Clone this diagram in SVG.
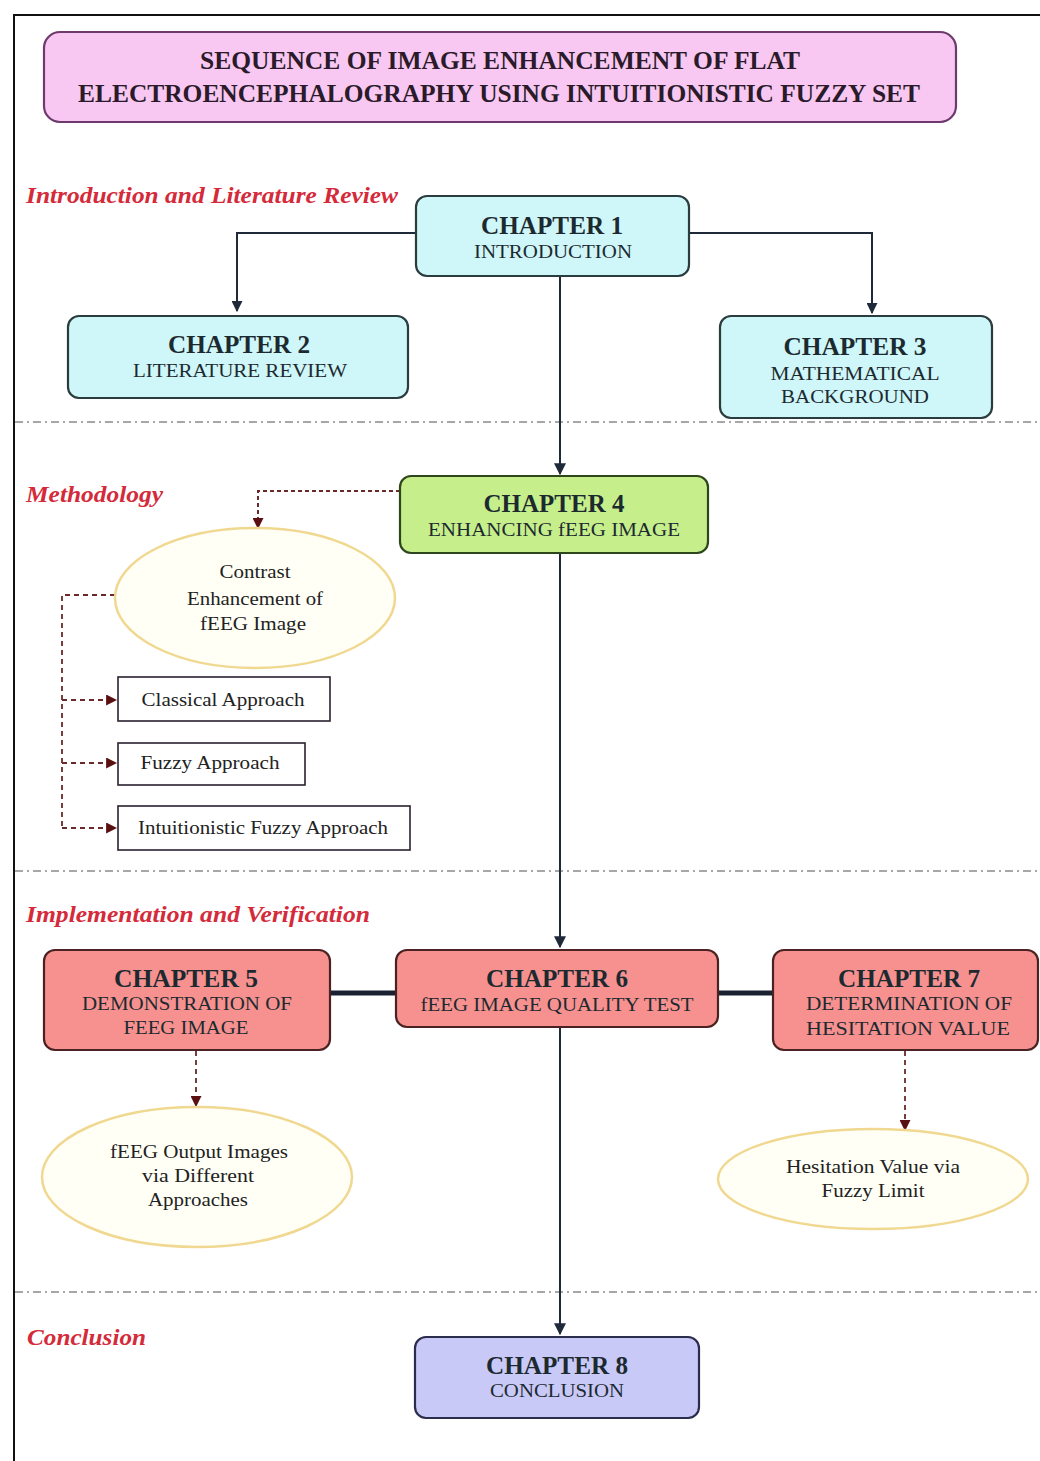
<svg xmlns="http://www.w3.org/2000/svg" width="1040" height="1461" viewBox="0 0 1040 1461">
<defs>
<marker id="ah" viewBox="0 0 10 10" refX="9" refY="5" markerWidth="11" markerHeight="11" orient="auto" markerUnits="userSpaceOnUse">
<path d="M0,0 L10,5 L0,10 z" fill="#1e2a3a"/>
</marker>
<marker id="ahd" viewBox="0 0 10 10" refX="9" refY="5" markerWidth="11" markerHeight="11" orient="auto" markerUnits="userSpaceOnUse">
<path d="M0,0 L10,5 L0,10 z" fill="#5a1010"/>
</marker>
<marker id="ahb" viewBox="0 0 10 10" refX="9" refY="5" markerWidth="12" markerHeight="12" orient="auto" markerUnits="userSpaceOnUse">
<path d="M0,0 L10,5 L0,10 z" fill="#1e2a3a"/>
</marker>
<style>
.frame{stroke:#111;stroke-width:2;fill:none}
.sep{stroke:#8a8a8a;stroke-width:1.6;stroke-dasharray:8 4 2 4;fill:none}
.sec{font-family:"Liberation Serif",serif;font-style:italic;font-weight:bold;font-size:23px;fill:#d42a3a}
.box{stroke-width:2.2}
.cyan{fill:#cff6f8;stroke:#2a3c3e}
.green{fill:#c6ef8c;stroke:#2e461c}
.red{fill:#f7918f;stroke:#4a2222}
.blue{fill:#c9c9f8;stroke:#2c2c4c}
.pink{fill:#f8c8f2;stroke:#6e3a6e}
.plain{fill:#fff;stroke:#2a2030;stroke-width:1.6}
.ell{fill:#fffff6;stroke:#f0d890;stroke-width:2.5}
.h{font-family:"Liberation Serif",serif;font-weight:bold;font-size:25px;fill:#1c2a30;text-anchor:middle}
.s{font-family:"Liberation Serif",serif;font-size:19px;fill:#1c2a30;text-anchor:middle}
.t{font-family:"Liberation Serif",serif;font-weight:bold;font-size:25px;fill:#2a1a2a;text-anchor:middle}
.e{font-family:"Liberation Serif",serif;font-size:19px;fill:#222;text-anchor:middle}
.line{stroke:#1e2a3a;stroke-width:2;fill:none}
.thick{stroke:#1a2232;stroke-width:5;fill:none}
.dash{stroke:#6a2a2a;stroke-width:1.8;stroke-dasharray:5 4;fill:none}
.dot{stroke:#6a2a2a;stroke-width:2;stroke-dasharray:4 3;fill:none}
</style>
</defs>
<g id="frame">
<path class="frame" d="M14,1461 V15 H1040"/>
</g>
<g id="separators">
<line class="sep" x1="15" y1="422" x2="1040" y2="422"/>
<line class="sep" x1="15" y1="871" x2="1040" y2="871"/>
<line class="sep" x1="15" y1="1292" x2="1040" y2="1292"/>
</g>
<g id="section-labels">
<text class="sec" x="26" y="203" textLength="372" lengthAdjust="spacingAndGlyphs">Introduction and Literature Review</text>
<text class="sec" x="26" y="502" textLength="137" lengthAdjust="spacingAndGlyphs">Methodology</text>
<text class="sec" x="26" y="922" textLength="344" lengthAdjust="spacingAndGlyphs">Implementation and Verification</text>
<text class="sec" x="27" y="1345" textLength="119" lengthAdjust="spacingAndGlyphs">Conclusion</text>
</g>
<g id="connectors">
<path class="line" d="M416,233 H237 V311" marker-end="url(#ah)"/>
<path class="line" d="M689,233 H872 V313" marker-end="url(#ah)"/>
<path class="line" d="M560,276 V474" marker-end="url(#ahb)"/>
<path class="line" d="M560,553 V947" marker-end="url(#ahb)"/>
<path class="line" d="M560,1027 V1334" marker-end="url(#ahb)"/>
<line class="thick" x1="330" y1="993" x2="396" y2="993"/>
<line class="thick" x1="718" y1="993" x2="773" y2="993"/>
<path class="dot" d="M400,491 H258 V528" marker-end="url(#ahd)"/>
<path class="dash" d="M115,595 H62 V828"/>
<path class="dash" d="M62,700 H116" marker-end="url(#ahd)"/>
<path class="dash" d="M62,763 H116" marker-end="url(#ahd)"/>
<path class="dash" d="M62,828 H116" marker-end="url(#ahd)"/>
<path class="dash" d="M196,1051 V1106" marker-end="url(#ahd)"/>
<path class="dash" d="M905,1051 V1130" marker-end="url(#ahd)"/>
</g>
<g id="title">
<rect class="pink box" x="44" y="32" width="912" height="90" rx="16"/>
<text class="t" x="500" y="69" textLength="600" lengthAdjust="spacingAndGlyphs">SEQUENCE OF IMAGE ENHANCEMENT OF FLAT</text>
<text class="t" x="499" y="102" textLength="842" lengthAdjust="spacingAndGlyphs">ELECTROENCEPHALOGRAPHY USING INTUITIONISTIC FUZZY SET</text>
</g>
<g id="chapter1">
<rect class="cyan box" x="416" y="196" width="273" height="80" rx="11"/>
<text class="h" x="552" y="234" textLength="142" lengthAdjust="spacingAndGlyphs">CHAPTER 1</text>
<text class="s" x="553" y="258" textLength="158" lengthAdjust="spacingAndGlyphs">INTRODUCTION</text>
</g>
<g id="chapter2">
<rect class="cyan box" x="68" y="316" width="340" height="82" rx="11"/>
<text class="h" x="239" y="353" textLength="142" lengthAdjust="spacingAndGlyphs">CHAPTER 2</text>
<text class="s" x="240" y="377" textLength="214" lengthAdjust="spacingAndGlyphs">LITERATURE REVIEW</text>
</g>
<g id="chapter3">
<rect class="cyan box" x="720" y="316" width="272" height="102" rx="11"/>
<text class="h" x="855" y="355" textLength="143" lengthAdjust="spacingAndGlyphs">CHAPTER 3</text>
<text class="s" x="855" y="380" textLength="169" lengthAdjust="spacingAndGlyphs">MATHEMATICAL</text>
<text class="s" x="855" y="403" textLength="148" lengthAdjust="spacingAndGlyphs">BACKGROUND</text>
</g>
<g id="chapter4">
<rect class="green box" x="400" y="476" width="308" height="77" rx="11"/>
<text class="h" x="554" y="512" textLength="141" lengthAdjust="spacingAndGlyphs">CHAPTER 4</text>
<text class="s" x="554" y="536" textLength="252" lengthAdjust="spacingAndGlyphs">ENHANCING fEEG IMAGE</text>
</g>
<g id="contrast-ellipse">
<ellipse class="ell" cx="255" cy="598" rx="140" ry="70"/>
<text class="e" x="255" y="578" textLength="71" lengthAdjust="spacingAndGlyphs">Contrast</text>
<text class="e" x="255" y="605" textLength="136" lengthAdjust="spacingAndGlyphs">Enhancement of</text>
<text class="e" x="253" y="630" textLength="106" lengthAdjust="spacingAndGlyphs">fEEG Image</text>
</g>
<g id="classical">
<rect class="plain" x="118" y="677" width="212" height="44"/>
<text class="e" x="223" y="706" textLength="163" lengthAdjust="spacingAndGlyphs">Classical Approach</text>
</g>
<g id="fuzzy">
<rect class="plain" x="118" y="743" width="187" height="42"/>
<text class="e" x="210" y="769" textLength="139" lengthAdjust="spacingAndGlyphs">Fuzzy Approach</text>
</g>
<g id="intuitionistic">
<rect class="plain" x="118" y="806" width="292" height="44"/>
<text class="e" x="263" y="834" textLength="250" lengthAdjust="spacingAndGlyphs">Intuitionistic Fuzzy Approach</text>
</g>
<g id="chapter5">
<rect class="red box" x="44" y="950" width="286" height="100" rx="11"/>
<text class="h" x="186" y="987" textLength="144" lengthAdjust="spacingAndGlyphs">CHAPTER 5</text>
<text class="s" x="187" y="1010" textLength="210" lengthAdjust="spacingAndGlyphs">DEMONSTRATION OF</text>
<text class="s" x="186" y="1034" textLength="125" lengthAdjust="spacingAndGlyphs">FEEG IMAGE</text>
</g>
<g id="chapter6">
<rect class="red box" x="396" y="950" width="322" height="77" rx="11"/>
<text class="h" x="557" y="987" textLength="142" lengthAdjust="spacingAndGlyphs">CHAPTER 6</text>
<text class="s" x="557" y="1011" textLength="273" lengthAdjust="spacingAndGlyphs">fEEG IMAGE QUALITY TEST</text>
</g>
<g id="chapter7">
<rect class="red box" x="773" y="950" width="265" height="100" rx="11"/>
<text class="h" x="909" y="987" textLength="142" lengthAdjust="spacingAndGlyphs">CHAPTER 7</text>
<text class="s" x="909" y="1010" textLength="206" lengthAdjust="spacingAndGlyphs">DETERMINATION OF</text>
<text class="s" x="908" y="1035" textLength="204" lengthAdjust="spacingAndGlyphs">HESITATION VALUE</text>
</g>
<g id="output-ellipse">
<ellipse class="ell" cx="197" cy="1177" rx="155" ry="70"/>
<text class="e" x="199" y="1158" textLength="178" lengthAdjust="spacingAndGlyphs">fEEG Output Images</text>
<text class="e" x="198" y="1182" textLength="112" lengthAdjust="spacingAndGlyphs">via Different</text>
<text class="e" x="198" y="1206" textLength="100" lengthAdjust="spacingAndGlyphs">Approaches</text>
</g>
<g id="hesitation-ellipse">
<ellipse class="ell" cx="873" cy="1179" rx="155" ry="50"/>
<text class="e" x="873" y="1173" textLength="174" lengthAdjust="spacingAndGlyphs">Hesitation Value via</text>
<text class="e" x="873" y="1197" textLength="103" lengthAdjust="spacingAndGlyphs">Fuzzy Limit</text>
</g>
<g id="chapter8">
<rect class="blue box" x="415" y="1337" width="284" height="81" rx="11"/>
<text class="h" x="557" y="1374" textLength="142" lengthAdjust="spacingAndGlyphs">CHAPTER 8</text>
<text class="s" x="557" y="1397" textLength="134" lengthAdjust="spacingAndGlyphs">CONCLUSION</text>
</g>
</svg>
